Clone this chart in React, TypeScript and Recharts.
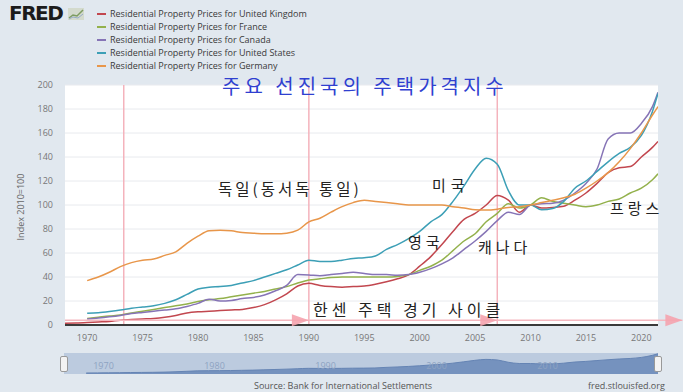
import { LineChart, Line, XAxis, YAxis, CartesianGrid, ReferenceLine, ReferenceDot, AreaChart, Area } from "recharts";

// ── Data (Index 2010=100, annual readings) ─────────────────────────────────
const years = [
  1968, 1969, 1970, 1971, 1972, 1973, 1974, 1975, 1976, 1977, 1978, 1979,
  1980, 1981, 1982, 1983, 1984, 1985, 1986, 1987, 1988, 1989,
  1990, 1991, 1992, 1993, 1994, 1995, 1996, 1997, 1998, 1999,
  2000, 2001, 2002, 2003, 2004, 2005, 2006, 2007, 2008, 2009,
  2010, 2011, 2012, 2013, 2014, 2015, 2016, 2017, 2018, 2019,
  2020, 2021, 2021.5,
];

const uk = [
  1.4, 1.6, 2, 2.5, 3, 4, 4.5, 5, 5.5, 6.5, 8, 10,
  11, 11.5, 12, 12.5, 13, 14.5, 17, 21, 26, 32.5,
  34.7, 33, 32, 31.5, 32, 32.5, 34, 36, 38.5, 41.7,
  49, 57, 67, 78, 88, 93, 100, 108, 104, 94,
  100, 97.5, 98, 99, 104, 110, 118, 127, 131, 132,
  140, 148, 153,
];

const france = [
  null, null, 5.5, 6.5, 7.5, 8.3, 10, 11.5, 13, 14.5, 16, 17.5,
  19.5, 21, 22, 23.5, 25, 26.5, 28, 30, 32, 35,
  37.5, 38.5, 39.5, 40, 40, 40, 40, 40, 40.5, 42,
  45.5, 49, 54, 62, 70, 76, 86, 93, 101, 97.5,
  100, 106, 103, 101.5, 100, 98.6, 100, 103, 105, 110,
  114, 121, 126,
];

const canada = [
  null, null, 5, 5.8, 6.8, 8, 9.5, 10.5, 11.5, 12.5, 13.5, 15.5,
  18, 21.5, 20, 20.5, 22, 23, 25, 28.5, 33, 42,
  41.7, 41, 42, 43, 44, 43, 42, 42, 41.5, 42,
  44, 47, 51, 56, 63, 70, 78, 87, 94, 92,
  100, 101, 101.5, 104, 110, 118, 130, 155, 160, 160,
  168, 182, 194,
];

const us = [
  null, null, 9.7, 10.3, 11.3, 12.5, 14, 15, 16, 18, 21, 25.5,
  30, 31.5, 32, 33, 35, 37, 40, 43, 46, 50,
  54, 53, 53, 54, 55.5, 56, 57.5, 63, 67, 72,
  78, 86, 92, 103, 116, 130, 139, 134, 112, 100,
  100, 96, 97, 103, 114, 120, 128, 136, 143, 148,
  158, 178, 193,
];

const germany = [
  null, null, 37, 40, 44, 48.6, 52, 54, 55, 58, 61, 68,
  74, 78.5, 79, 78.5, 77, 76.5, 76, 76, 76.5, 79,
  86, 89, 94, 98.6, 102, 104, 103, 102, 101, 100,
  100, 100, 100, 98.6, 97.5, 96, 95.8, 96.5, 98, 98.6,
  100, 102, 104, 106, 109, 114, 120, 127, 136, 147,
  160, 175, 182,
];

const xTicks = [1970, 1975, 1980, 1985, 1990, 1995, 2000, 2005, 2010, 2015, 2020];
const yTicks = [0, 20, 40, 60, 80, 100, 120, 140, 160, 180, 200];
const navTicks = [1970, 1980, 1990, 2000, 2010];

// cycle markers (years) from the annotation
const cycleLines = [1973.3, 1990, 2007];
const cycleArrows = [1990, 2007, 2023.7];

const series = [
  { key: "uk", name: "Residential Property Prices for United Kingdom", color: "#c2474f" },
  { key: "france", name: "Residential Property Prices for France", color: "#93b14c" },
  { key: "canada", name: "Residential Property Prices for Canada", color: "#8674b6" },
  { key: "us", name: "Residential Property Prices for United States", color: "#3c9fb6" },
  { key: "germany", name: "Residential Property Prices for Germany", color: "#e8964a" },
];

const data = years.map((year, i) => ({
  year,
  uk: uk[i],
  france: france[i],
  canada: canada[i],
  us: us[i],
  germany: germany[i],
}));

// ── Custom renderers ───────────────────────────────────────────────────────

const ArrowHead = (props: any) => {
  const { cx, cy } = props;
  return (
    <path d={`M${cx},${cy} L${cx - 17},${cy - 6} L${cx - 17},${cy + 6} Z`} fill="#f5a3ae" fillOpacity={0.9} />
  );
};

const handKo = { fontFamily: "'Noto Sans CJK KR', sans-serif", color: "#222", fontSize: 15, letterSpacing: 3, position: "absolute" as const, whiteSpace: "nowrap" as const, lineHeight: 1 };

export default function App() {
  return (
    <div style={{ position: "fixed", left: 0, top: 0, width: 683, height: 392, overflow: "hidden", background: "#e1e8ef", fontFamily: "'Open Sans', sans-serif" }}>
      {/* FRED logo */}
      <div style={{ position: "absolute", left: 9, top: 2, fontFamily: "'DejaVu Sans', sans-serif", fontWeight: 900, fontSize: 20, letterSpacing: -1.5, color: "#1b1b1b", lineHeight: "22px" }}>FRED</div>
      <svg style={{ position: "absolute", left: 68, top: 8 }} width={16} height={12}>
        <rect x={0} y={0} width={16} height={12} fill="#d3dacd" />
        <polyline points="1,10 5,7 9,8 15,2" fill="none" stroke="#7d9c62" strokeWidth={1.5} />
        <polyline points="1,11 5,9 10,10 15,6" fill="none" stroke="#96abc8" strokeWidth={1} />
      </svg>

      {/* Legend */}
      <div style={{ position: "absolute", left: 97, top: 7 }}>
        {series.map((s) => (
          <div key={s.key} style={{ display: "flex", alignItems: "center", height: 13, fontSize: 9, color: "#3a3a3a" }}>
            <span style={{ display: "inline-block", width: 9, height: 2, background: s.color, marginRight: 4 }} />
            {s.name}
          </div>
        ))}
      </div>

      {/* Y axis label */}
      <div style={{ position: "absolute", left: 20, top: 207, transform: "translate(-50%,-50%) rotate(-90deg)", fontSize: 9, color: "#666", whiteSpace: "nowrap" }}>
        Index 2010=100
      </div>

      <div style={{ position: "absolute", left: 0, top: 0 }}>
        <LineChart width={683} height={392} data={data} margin={{ top: 85, right: 25, bottom: 47, left: 20 }}>
          <CartesianGrid horizontal vertical={false} stroke="#e8eaee" fill="#ffffff" />
          <XAxis dataKey="year" type="number" domain={[1968, 2021.5]} ticks={xTicks}
            tick={{ fill: "#777", fontSize: 9 }} tickLine={false} tickMargin={4}
            axisLine={{ stroke: "#3a3a3a", strokeWidth: 2 }} height={20} allowDataOverflow />
          <YAxis domain={[0, 200]} ticks={yTicks} tick={{ fill: "#777", fontSize: 9 }}
            axisLine={false} tickLine={false} tickMargin={6} width={45} />

          {cycleLines.map((x) => (
            <ReferenceLine key={`c-${x}`} x={x} stroke="#f4b3bc" strokeWidth={1.5} />
          ))}

          {series.map((s) => (
            <Line key={s.key} dataKey={s.key} stroke={s.color} strokeWidth={1.5} type="monotone"
              dot={false} activeDot={false} isAnimationActive={false} connectNulls={false} />
          ))}

          <ReferenceLine segment={[{ x: 1968, y: 4 }, { x: 2023.7, y: 4 }]} stroke="#f5b8c0" strokeWidth={1.5} ifOverflow="visible" />
          {cycleArrows.map((x) => (
            <ReferenceDot key={`a-${x}`} x={x} y={4} r={6} shape={<ArrowHead />} ifOverflow="visible" />
          ))}
        </LineChart>
      </div>

      {/* Navigator */}
      <div style={{ position: "absolute", left: 64, top: 353, width: 594, height: 21, background: "#bccbdf" }} />
      <div style={{ position: "absolute", left: 64, top: 353 }}>
        <AreaChart width={594} height={21} data={data} margin={{ top: 0, right: 0, bottom: 0, left: 0 }}>
          <XAxis dataKey="year" type="number" domain={[1968, 2021.5]} hide />
          <YAxis domain={[0, 200]} hide />
          <Area dataKey="us" type="monotone" stroke="#6584b4" strokeWidth={1} fill="#7592be" fillOpacity={1}
            isAnimationActive={false} dot={false} activeDot={false} />
          {navTicks.map((t) => (
            <ReferenceLine key={`n-${t}`} x={t} stroke="none"
              label={{ value: String(t), position: "insideLeft", fill: "#8ea3c2", fontSize: 9, dx: 2, dy: 2 }} />
          ))}
        </AreaChart>
      </div>
      <div style={{ position: "absolute", left: 60, top: 356, width: 6, height: 14, background: "#f3f3f3", border: "1px solid #999", borderRadius: 2 }} />
      <div style={{ position: "absolute", left: 654, top: 356, width: 6, height: 14, background: "#f3f3f3", border: "1px solid #999", borderRadius: 2 }} />

      {/* Footer */}
      <div style={{ position: "absolute", left: 0, width: 683, top: 379, fontSize: 9, color: "#555" }}>
        <span style={{ position: "absolute", left: 254 }}>Source: Bank for International Settlements</span>
        <span style={{ position: "absolute", left: 588 }}>fred.stlouisfed.org</span>
      </div>

      {/* Korean annotations */}
      <div style={{ ...handKo, left: 222, top: 76, fontSize: 20, color: "#2f40d0", letterSpacing: 4 }}>주요 선진국의 주택가격지수</div>
      <div style={{ ...handKo, left: 218, top: 181, fontSize: 15.5 }}>독일(동서독 통일)</div>
      <div style={{ ...handKo, left: 432, top: 177, letterSpacing: 5 }}>미국</div>
      <div style={{ ...handKo, left: 408, top: 234, letterSpacing: 4 }}>영국</div>
      <div style={{ ...handKo, left: 478, top: 239, letterSpacing: 4 }}>캐나다</div>
      <div style={{ ...handKo, left: 610, top: 200, letterSpacing: 4 }}>프랑스</div>
      <div style={{ ...handKo, left: 313, top: 301, fontSize: 16, letterSpacing: 4 }}>한센 주택 경기 사이클</div>
    </div>
  );
}
